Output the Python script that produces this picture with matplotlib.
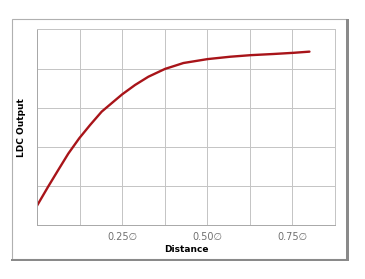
import numpy as np
import matplotlib.pyplot as plt
from matplotlib.patches import Rectangle

# values
distance = [0.0, 0.033, 0.063, 0.092, 0.124, 0.156, 0.19, 0.224, 0.25, 0.288,
            0.327, 0.376, 0.405, 0.43, 0.501, 0.567, 0.627, 0.694, 0.753, 0.80]
ldc_output = [0.50, 0.99, 1.42, 1.83, 2.22, 2.56, 2.90, 3.15, 3.34, 3.58,
              3.79, 3.99, 4.07, 4.14, 4.24, 4.30, 4.34, 4.37, 4.40, 4.43]

tick_labels = ["0.25\u2205", "0.50\u2205", "0.75\u2205"]

fig = plt.figure(figsize=(3.65, 2.79), dpi=100)

# outer frame of the screenshot, with a shadow on right/bottom
fig.patches.append(Rectangle((11.5 / 365, 1 - 259 / 279), 335 / 365, 239.5 / 279,
                             transform=fig.transFigure, fill=False,
                             edgecolor="#b0b0b0", lw=0.8))
fig.patches.append(Rectangle((346 / 365, 1 - 261 / 279), 2.5 / 365, 242 / 279,
                             transform=fig.transFigure, color="#8a8a8a", lw=0))
fig.patches.append(Rectangle((11 / 365, 1 - 261 / 279), 337.5 / 365, 2.5 / 279,
                             transform=fig.transFigure, color="#8a8a8a", lw=0))

ax = fig.add_axes([37 / 365, 1 - 225.3 / 279, 298 / 365, 196 / 279])
ax.plot(distance, ldc_output, color="#a81419", lw=1.7, solid_capstyle="round",
        solid_joinstyle="round")

ax.set_xlim(0, 0.875)
ax.set_ylim(0, 5)
ax.set_xticks(np.arange(0, 0.876, 0.125))
ax.set_xticklabels(["", "", tick_labels[0], "", tick_labels[1], "", tick_labels[2], ""])
ax.set_yticks(np.arange(0, 5.1, 1))
ax.set_yticklabels([])
ax.tick_params(length=0, labelsize=7, labelcolor="#707070", pad=5)
ax.grid(True, color="#c4c4c4", lw=0.7)
for s in ax.spines.values():
    s.set_color("#c4c4c4")
    s.set_linewidth(0.7)
ax.spines["left"].set_color("#a8a8a8")
ax.spines["bottom"].set_color("#a8a8a8")

ax.set_xlabel("Distance", fontsize=6.5, fontweight="bold", labelpad=2)
ax.set_ylabel("LDC Output", fontsize=6.5, fontweight="bold", labelpad=3)

fig.savefig("out.png", dpi=100)
